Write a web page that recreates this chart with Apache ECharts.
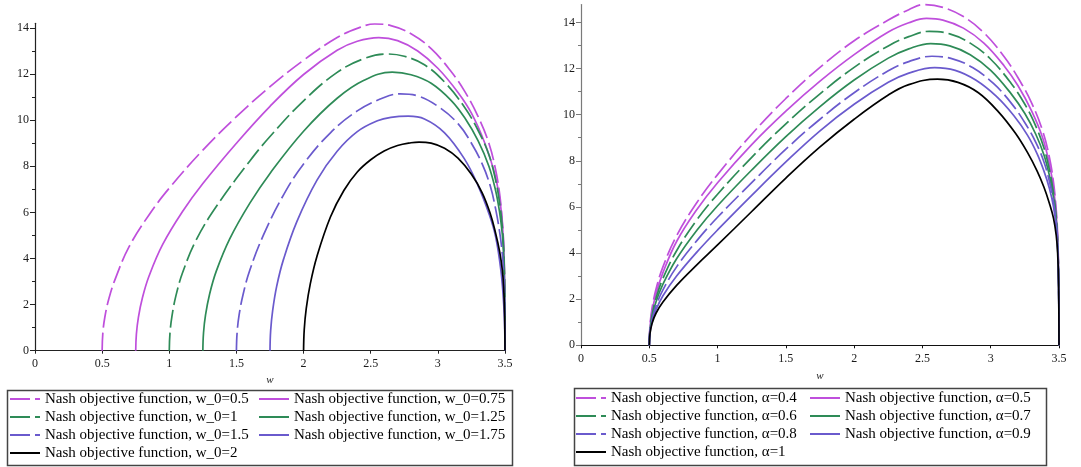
<!DOCTYPE html>
<html><head><meta charset="utf-8">
<script src="https://cdn.jsdelivr.net/npm/echarts@6/dist/echarts.min.js"></script>
<style>html,body{margin:0;padding:0;background:#fff}#c{width:1081px;height:467px}</style>
</head><body><div id="c"></div>
<script>
// ---- tick values ----
const xTickInterval = 0.5;
const yMajorTicks = [0, 2, 4, 6, 8, 10, 12, 14];
const yMinorTicks = [1, 3, 5, 7, 9, 11, 13];

// ---- left panel: alpha fixed, w_0 varies ----
const leftNames = ['w_0=0.5', 'w_0=0.75', 'w_0=1', 'w_0=1.25', 'w_0=1.5', 'w_0=1.75', 'w_0=2'];
const w0_050 = [[0.5,0],[0.505,0.75],[0.52,1.45],[0.55,2.25],[0.6,3.15],[0.7,4.5],[0.85,5.9],[1.0,7.05],[1.25,8.7],[1.5,10.15],[1.75,11.45],[2.0,12.6],[2.25,13.58],[2.4,13.98],[2.53,14.17],[2.65,14.1],[2.8,13.75],[2.95,13.1],[3.1,12.1],[3.2,11.25],[3.3,10.15],[3.38,9.0],[3.43,7.85],[3.46,6.8],[3.48,5.6],[3.49,4.6],[3.497,3.0],[3.5,0]];
const w0_075 = [[0.75,0],[0.755,0.72],[0.77,1.45],[0.8,2.3],[0.85,3.25],[0.95,4.6],[1.1,6.05],[1.25,7.25],[1.5,9.0],[1.75,10.6],[2.0,11.98],[2.25,13.03],[2.4,13.42],[2.56,13.58],[2.7,13.45],[2.85,13.0],[3.0,12.25],[3.15,11.2],[3.25,10.3],[3.35,9.0],[3.42,7.75],[3.46,6.6],[3.48,5.5],[3.49,4.5],[3.497,2.9],[3.5,0]];
const w0_100 = [[1.0,0],[1.005,0.75],[1.02,1.5],[1.05,2.4],[1.1,3.4],[1.2,4.8],[1.35,6.25],[1.6,8.23],[1.75,9.29],[2.0,10.84],[2.25,12.07],[2.45,12.67],[2.62,12.87],[2.75,12.77],[2.9,12.4],[3.05,11.65],[3.2,10.55],[3.3,9.55],[3.38,8.5],[3.43,7.4],[3.46,6.4],[3.48,5.35],[3.49,4.4],[3.497,2.85],[3.5,0]];
const w0_125 = [[1.25,0],[1.255,0.78],[1.27,1.55],[1.3,2.45],[1.35,3.45],[1.45,4.85],[1.6,6.4],[1.75,7.69],[2.0,9.52],[2.25,10.95],[2.45,11.73],[2.66,12.08],[2.8,11.97],[2.95,11.6],[3.1,10.85],[3.2,10.1],[3.3,9.1],[3.38,8.0],[3.43,6.95],[3.46,6.0],[3.48,5.05],[3.49,4.2],[3.497,2.75],[3.5,0]];
const w0_150 = [[1.5,0],[1.505,0.78],[1.52,1.55],[1.55,2.45],[1.6,3.5],[1.7,5.0],[1.85,6.75],[2.0,8.1],[2.2,9.45],[2.4,10.4],[2.6,10.98],[2.72,11.14],[2.85,11.05],[3.0,10.6],[3.15,9.85],[3.25,9.0],[3.33,8.1],[3.39,7.15],[3.43,6.15],[3.46,5.15],[3.48,4.2],[3.49,3.4],[3.497,2.2],[3.5,0]];
const w0_175 = [[1.75,0],[1.755,0.88],[1.77,1.75],[1.8,2.8],[1.85,3.95],[1.95,5.6],[2.1,7.4],[2.25,8.65],[2.4,9.5],[2.55,9.97],[2.65,10.12],[2.78,10.17],[2.9,10.05],[3.05,9.45],[3.2,8.3],[3.3,7.15],[3.38,5.95],[3.43,4.95],[3.47,3.45],[3.49,2.05],[3.498,0.9],[3.5,0]];
const w0_200 = [[2.0,0],[2.005,0.92],[2.02,1.84],[2.05,2.9],[2.1,4.1],[2.2,5.8],[2.3,6.95],[2.4,7.75],[2.5,8.28],[2.6,8.66],[2.7,8.9],[2.8,9.02],[2.86,9.05],[2.95,9.0],[3.05,8.78],[3.15,8.35],[3.25,7.65],[3.33,6.85],[3.39,5.95],[3.43,5.1],[3.46,4.3],[3.48,3.5],[3.49,2.75],[3.497,1.6],[3.5,0]];
const leftData = [w0_050, w0_075, w0_100, w0_125, w0_150, w0_175, w0_200];

// ---- right panel: w_0 = 0.5, alpha varies ----
const rightNames = ['α=0.4', 'α=0.5', 'α=0.6', 'α=0.7', 'α=0.8', 'α=0.9', 'α=1'];
const a_04 = [[0.5,0],[0.505,0.85],[0.52,1.6],[0.55,2.45],[0.6,3.4],[0.7,4.75],[0.85,6.2],[1.0,7.4],[1.25,9.15],[1.5,10.7],[1.75,12.05],[2.0,13.2],[2.25,14.1],[2.4,14.55],[2.51,14.77],[2.65,14.65],[2.8,14.25],[2.95,13.55],[3.1,12.5],[3.2,11.6],[3.3,10.5],[3.38,9.3],[3.43,8.15],[3.46,7.05],[3.48,5.85],[3.49,4.8],[3.497,3.15],[3.5,0]];
const a_05 = [[0.5,0],[0.505,0.75],[0.52,1.45],[0.55,2.25],[0.6,3.15],[0.7,4.5],[0.85,5.9],[1.0,7.05],[1.25,8.7],[1.5,10.15],[1.75,11.45],[2.0,12.6],[2.25,13.58],[2.4,13.98],[2.53,14.17],[2.65,14.1],[2.8,13.75],[2.95,13.1],[3.1,12.1],[3.2,11.25],[3.3,10.15],[3.38,9.0],[3.43,7.85],[3.46,6.8],[3.48,5.6],[3.49,4.6],[3.497,3.0],[3.5,0]];
const a_06 = [[0.5,0],[0.505,0.7],[0.52,1.3],[0.55,2.05],[0.6,2.9],[0.7,4.1],[0.85,5.45],[1.0,6.55],[1.25,8.15],[1.5,9.6],[1.75,10.9],[2.0,12.05],[2.25,12.98],[2.4,13.38],[2.55,13.61],[2.7,13.5],[2.85,13.1],[3.0,12.4],[3.15,11.35],[3.25,10.45],[3.33,9.5],[3.39,8.55],[3.43,7.6],[3.46,6.6],[3.48,5.5],[3.49,4.5],[3.497,2.95],[3.5,0]];
const a_07 = [[0.5,0],[0.505,0.65],[0.52,1.2],[0.55,1.9],[0.6,2.65],[0.7,3.75],[0.85,5.0],[1.0,6.05],[1.25,7.6],[1.5,9.05],[1.75,10.35],[2.0,11.5],[2.25,12.45],[2.4,12.85],[2.56,13.08],[2.7,12.98],[2.85,12.6],[3.0,11.92],[3.15,10.9],[3.25,10.05],[3.33,9.15],[3.39,8.25],[3.43,7.35],[3.46,6.4],[3.48,5.4],[3.49,4.45],[3.497,2.9],[3.5,0]];
const a_08 = [[0.5,0],[0.505,0.6],[0.52,1.1],[0.55,1.72],[0.6,2.4],[0.7,3.4],[0.85,4.55],[1.0,5.55],[1.25,7.05],[1.5,8.5],[1.75,9.8],[2.0,10.95],[2.25,11.9],[2.4,12.3],[2.57,12.53],[2.72,12.42],[2.87,12.03],[3.02,11.35],[3.15,10.5],[3.25,9.65],[3.33,8.8],[3.39,7.95],[3.43,7.1],[3.46,6.2],[3.48,5.25],[3.49,4.35],[3.497,2.85],[3.5,0]];
const a_09 = [[0.5,0],[0.505,0.55],[0.52,1.0],[0.55,1.55],[0.6,2.15],[0.7,3.0],[0.85,4.05],[1.0,5.0],[1.25,6.5],[1.5,7.95],[1.75,9.3],[2.0,10.45],[2.25,11.4],[2.4,11.8],[2.59,12.04],[2.74,11.92],[2.89,11.5],[3.04,10.8],[3.17,9.95],[3.27,9.1],[3.34,8.3],[3.39,7.55],[3.43,6.8],[3.46,6.0],[3.48,5.1],[3.49,4.25],[3.497,2.8],[3.5,0]];
const a_10 = [[0.5,0],[0.505,0.5],[0.52,0.95],[0.55,1.4],[0.6,1.88],[0.7,2.6],[0.85,3.5],[1.0,4.35],[1.25,5.8],[1.5,7.25],[1.75,8.6],[2.0,9.8],[2.25,10.85],[2.4,11.3],[2.61,11.54],[2.76,11.4],[2.91,10.95],[3.06,10.1],[3.18,9.2],[3.27,8.35],[3.34,7.55],[3.39,6.85],[3.43,6.15],[3.46,5.5],[3.48,4.75],[3.49,4.0],[3.497,2.7],[3.5,0]];
const rightData = [a_04, a_05, a_06, a_07, a_08, a_09, a_10];

// ---- styles ----
const lineColors = ['#BF4FDC', '#BF4FDC', '#2E8B57', '#2E8B57', '#6A5ACD', '#6A5ACD', '#000000'];
const lineDashed = [true, false, true, false, true, false, false];
const prefix = 'Nash objective function, ';
const FONT = '"Liberation Serif", "Times New Roman", serif';

const chart = echarts.init(document.getElementById('c'), null, {renderer: 'canvas'});

function makeSeries(names, data, xi, yi) {
  return names.map((n, i) => ({
    type: 'line', name: prefix + n, xAxisIndex: xi, yAxisIndex: yi,
    data: data[i], symbol: 'none', showSymbol: false,
    smooth: 0.4, clip: false,
    lineStyle: {color: lineColors[i], width: 1.7, type: lineDashed[i] ? [18, 5] : 'solid'},
    itemStyle: {color: lineColors[i]},
    emphasis: {disabled: true}, silent: true, z: 3
  }));
}

function xAx(gi, nameGap, labelMargin, axisColor) {
  return {
    type: 'value', gridIndex: gi, min: 0, max: 3.5, interval: xTickInterval,
    name: 'w', nameLocation: 'middle', nameGap: nameGap,
    nameTextStyle: {fontFamily: FONT, fontStyle: 'italic', fontSize: 11, color: '#222'},
    axisLine: {show: true, onZero: false, lineStyle: {color: axisColor, width: 1.2}},
    axisTick: {show: true, length: 3, lineStyle: {color: axisColor, width: 1}},
    axisLabel: {margin: labelMargin, fontFamily: FONT, fontSize: 12, color: '#1a1a1a'},
    splitLine: {show: false}
  };
}
function yAx(gi, max, axisColor) {
  return [{
    type: 'value', gridIndex: gi, position: 'left', min: 0, max: max, interval: 2,
    axisLine: {show: true, onZero: false, lineStyle: {color: axisColor, width: 1.2}},
    axisTick: {show: true, length: 5, customValues: yMajorTicks, lineStyle: {color: axisColor, width: 1}},
    axisLabel: {margin: 6, customValues: yMajorTicks, fontFamily: FONT, fontSize: 12, color: '#1a1a1a'},
    splitLine: {show: false}
  }, {
    type: 'value', gridIndex: gi, position: 'left', offset: 0, min: 0, max: max, interval: 2,
    axisLine: {show: false, onZero: false},
    axisTick: {show: true, length: 3, customValues: yMinorTicks, lineStyle: {color: axisColor, width: 1}},
    axisLabel: {show: false},
    splitLine: {show: false}
  }];
}

function legendCol(names, idx, left, top) {
  return {
    data: names.map((n, k) => ({
      name: prefix + n,
      lineStyle: lineDashed[idx[k]] ? {type: [20, 5]} : {type: 'solid'}
    })),
    orient: 'vertical', left: left, top: top,
    itemWidth: 30, itemHeight: 15, itemGap: 3, selectedMode: false, padding: 0,
    itemStyle: {opacity: 0, borderWidth: 0},
    textStyle: {fontFamily: FONT, fontSize: 15, color: '#000', lineHeight: 15}
  };
}

chart.setOption({
  animation: false,
  backgroundColor: '#ffffff',
  textStyle: {fontFamily: FONT},
  grid: [
    {left: 35, top: 23.3, width: 470, height: 327.4, containLabel: false, outerBoundsMode: 'none'},
    {left: 581, top: 4.6, width: 478, height: 340.7, containLabel: false, outerBoundsMode: 'none'}
  ],
  xAxis: [xAx(0, 22, 7, '#222'), xAx(1, 23, 8, '#111')],
  yAxis: [...yAx(0, 14.2, '#222'), ...yAx(1, 14.77, '#7a7a7a')],
  legend: [
    legendCol([leftNames[0], leftNames[2], leftNames[4], leftNames[6]], [0, 2, 4, 6], 9, 391.5),
    legendCol([leftNames[1], leftNames[3], leftNames[5]], [1, 3, 5], 258, 391.5),
    legendCol([rightNames[0], rightNames[2], rightNames[4], rightNames[6]], [0, 2, 4, 6], 575, 390.5),
    legendCol([rightNames[1], rightNames[3], rightNames[5]], [1, 3, 5], 809, 390.5)
  ],
  graphic: [
    {type: 'rect', left: 5, top: 388, shape: {width: 505, height: 75}, style: {fill: 'none', stroke: '#444', lineWidth: 1.5}, silent: true},
    {type: 'rect', left: 572, top: 386, shape: {width: 472, height: 77}, style: {fill: 'none', stroke: '#444', lineWidth: 1.5}, silent: true}
  ],
  series: [...makeSeries(leftNames, leftData, 0, 0), ...makeSeries(rightNames, rightData, 1, 2)]
});
</script>
</body></html>
